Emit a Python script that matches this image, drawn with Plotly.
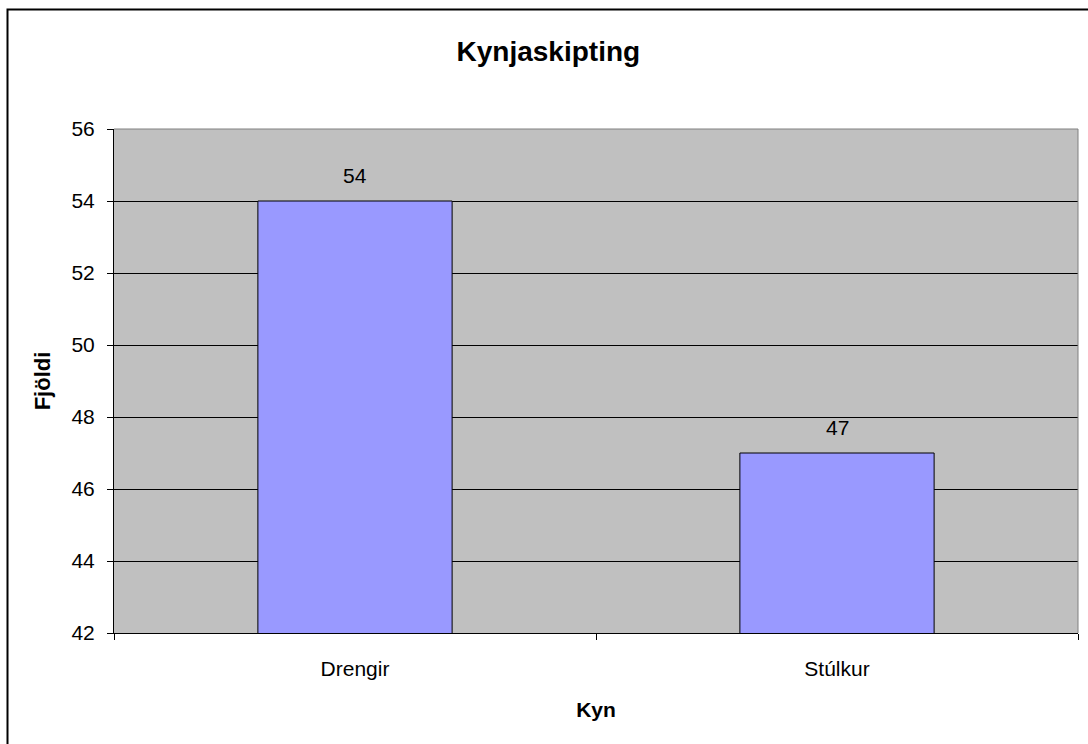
import plotly.graph_objects as go

categories = ["Drengir", "Stúlkur"]
values = [54, 47]
y_ticks = [42, 44, 46, 48, 50, 52, 54, 56]

FONT = "Liberation Sans, Arial, sans-serif"

fig = go.Figure()
fig.add_trace(go.Bar(
    x=categories, y=values, width=0.403,
    marker=dict(color="#9999FF", line=dict(color="black", width=1)),
    hoverinfo="skip",
))

for c, v in zip(categories, values):
    fig.add_annotation(x=c, y=v, text=str(v), showarrow=False,
                       yanchor="bottom", yshift=12,
                       font=dict(family=FONT, size=21, color="black"))

fig.update_layout(
    width=1088, height=744,
    margin=dict(l=114, r=10, t=129, b=111),
    paper_bgcolor="white", plot_bgcolor="#C0C0C0",
    showlegend=False,
    title=dict(text="<b>Kynjaskipting</b>", x=0.504, xanchor="center",
               y=1 - 51 / 744, yanchor="middle",
               font=dict(family=FONT, size=28, color="black")),
    font=dict(family=FONT, color="black"),
    bargap=0,
)

fig.update_xaxes(
    type="category", tickson="boundaries", ticks="outside", ticklen=6,
    tickcolor="black", showline=True, linecolor="black", linewidth=1,
    showgrid=False, tickfont=dict(family=FONT, size=21),
    ticklabelstandoff=17,
    title=dict(text="<b>Kyn</b>", font=dict(family=FONT, size=21), standoff=23),
)
fig.update_yaxes(
    range=[42, 56], tickvals=y_ticks, ticks="outside", ticklen=6,
    tickcolor="black", showline=True, linecolor="black", linewidth=1,
    showgrid=True, gridcolor="black", gridwidth=1, zeroline=False,
    tickfont=dict(family=FONT, size=21), ticklabelstandoff=8,
    title=dict(text="<b>Fjöldi</b>", font=dict(family=FONT, size=22), standoff=14),
)

# plot area top/right border (gray)
fig.add_shape(type="line", xref="paper", yref="paper", x0=0, x1=1, y0=1, y1=1,
              line=dict(color="#808080", width=1))
fig.add_shape(type="line", xref="paper", yref="paper", x0=1, x1=1, y0=0, y1=1,
              line=dict(color="#808080", width=1))

# chart area border (extends beyond the visible window on right/bottom)
fig.add_shape(type="rect", xref="paper", yref="paper",
              x0=(7.5 - 114) / 964, x1=(1095 - 114) / 964,
              y0=(633 - 760) / 504, y1=(633 - 9.5) / 504,
              line=dict(color="black", width=2), fillcolor="rgba(0,0,0,0)",
              layer="below")

fig.write_html("out.html", config={"displayModeBar": False, "staticPlot": True},
               post_script="document.body.style.margin='0';document.body.style.overflow='hidden';")
